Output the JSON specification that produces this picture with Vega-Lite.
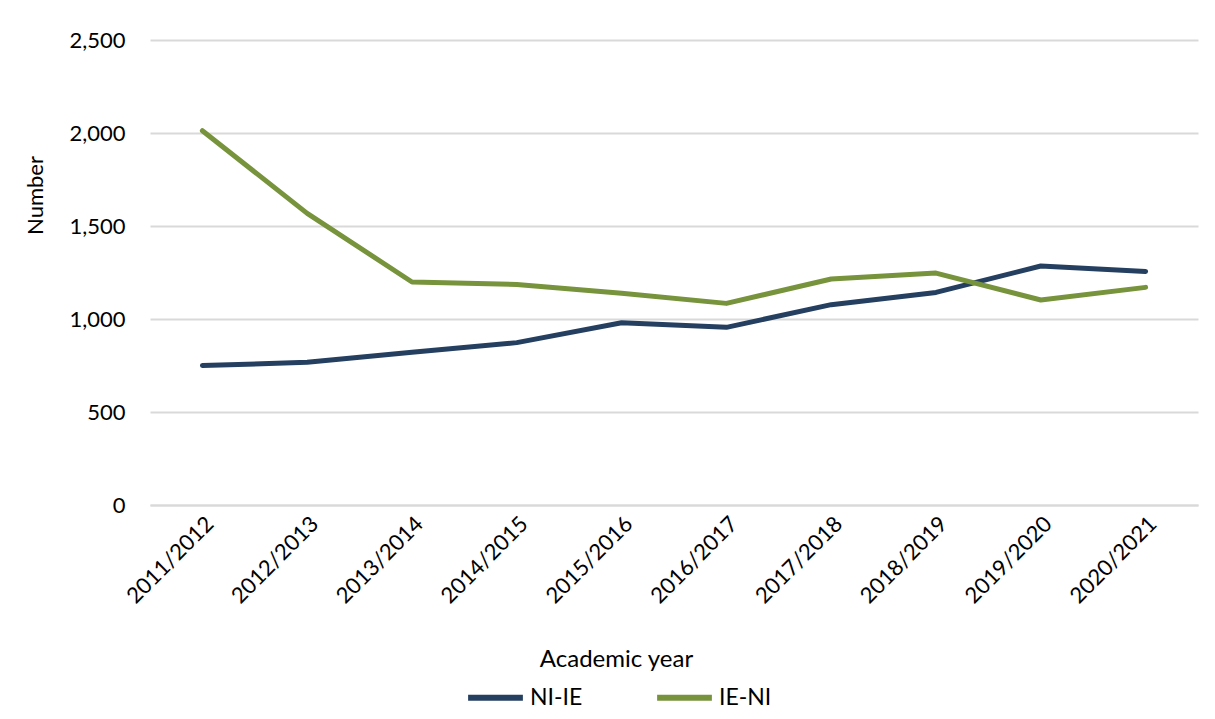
{
  "$schema": "https://vega.github.io/schema/vega-lite/v6.json",
  "width": 1048,
  "height": 465,
  "autosize": {"type": "none"},
  "padding": {"left": 150, "top": 40, "right": 17, "bottom": 214},
  "background": "white",
  "config": {
    "view": {"stroke": null},
    "font": "Lato",
    "axis": {"labelFont": "Lato", "titleFont": "Lato", "labelColor": "#000000", "titleColor": "#000000", "titleFontWeight": "normal"},
    "legend": {"labelFont": "Lato"}
  },
  "data": {
    "values": [
      {"year": "2011/2012", "series": "NI-IE", "value": 750},
      {"year": "2012/2013", "series": "NI-IE", "value": 767},
      {"year": "2013/2014", "series": "NI-IE", "value": 821},
      {"year": "2014/2015", "series": "NI-IE", "value": 873},
      {"year": "2015/2016", "series": "NI-IE", "value": 980},
      {"year": "2016/2017", "series": "NI-IE", "value": 955},
      {"year": "2017/2018", "series": "NI-IE", "value": 1077},
      {"year": "2018/2019", "series": "NI-IE", "value": 1143},
      {"year": "2019/2020", "series": "NI-IE", "value": 1285},
      {"year": "2020/2021", "series": "NI-IE", "value": 1256},
      {"year": "2011/2012", "series": "IE-NI", "value": 2012},
      {"year": "2012/2013", "series": "IE-NI", "value": 1568},
      {"year": "2013/2014", "series": "IE-NI", "value": 1199},
      {"year": "2014/2015", "series": "IE-NI", "value": 1186},
      {"year": "2015/2016", "series": "IE-NI", "value": 1138},
      {"year": "2016/2017", "series": "IE-NI", "value": 1084},
      {"year": "2017/2018", "series": "IE-NI", "value": 1215},
      {"year": "2018/2019", "series": "IE-NI", "value": 1247},
      {"year": "2019/2020", "series": "IE-NI", "value": 1102},
      {"year": "2020/2021", "series": "IE-NI", "value": 1170}
    ]
  },
  "mark": {"type": "line", "strokeWidth": 5, "strokeCap": "round", "strokeJoin": "round"},
  "encoding": {
    "x": {
      "field": "year",
      "type": "ordinal",
      "scale": {"type": "point", "padding": 0.5},
      "axis": {
        "title": "Academic year",
        "titleFontSize": 24,
        "titleX": 466,
        "titleY": 142,
        "titleAlign": "center",
        "labelAngle": -45,
        "labelFontSize": 22,
        "labelPadding": 8,
        "ticks": false,
        "domain": true,
        "domainColor": "#d9d9d9",
        "domainWidth": 2,
        "grid": false
      }
    },
    "y": {
      "field": "value",
      "type": "quantitative",
      "scale": {"domain": [0, 2500], "nice": false},
      "axis": {
        "title": "Number",
        "titleFontSize": 22,
        "titleX": -103,
        "titleY": 155,
        "titleAngle": -90,
        "titleAlign": "center",
        "values": [0, 500, 1000, 1500, 2000, 2500],
        "format": ",.0f",
        "labelFontSize": 22,
        "labelPadding": 25,
        "ticks": false,
        "domain": false,
        "gridColor": "#d9d9d9",
        "gridWidth": 2
      }
    },
    "color": {
      "field": "series",
      "type": "nominal",
      "sort": ["NI-IE", "IE-NI"],
      "scale": {"domain": ["NI-IE", "IE-NI"], "range": ["#243f60", "#77933c"]},
      "legend": {
        "title": null,
        "orient": "none",
        "direction": "horizontal",
        "legendX": 315,
        "legendY": 627,
        "symbolType": "stroke",
        "symbolSize": 3000,
        "symbolStrokeWidth": 6,
        "labelFontSize": 23,
        "labelColor": "#000000",
        "columnPadding": 62,
        "labelOffset": 4
      }
    }
  }
}
